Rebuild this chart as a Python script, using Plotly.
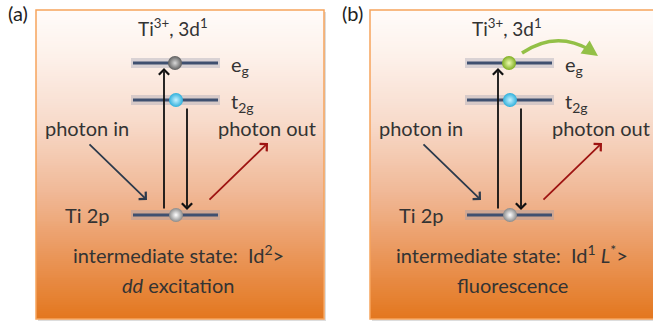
import plotly.graph_objects as go
import numpy as np

# ---- diagram content ----
panel_labels = ["(a)", "(b)"]
panel_offsets = [0, 334]          # horizontal shift of panel (b)
ion_label = "Ti<sup>3+</sup>, 3d<sup>1</sup>"
level_names = ["e<sub>g</sub>", "t<sub>2g</sub>", "Ti 2p"]
level_y = [63, 100, 215]
ball_colors_a = ["#5e5e5e", "#2fb0dc", "#8a8a8a"]
ball_hi_a = ["#d8d8d8", "#c8f2ff", "#ffffff"]
ball_colors_b = ["#7fae22", "#2fb0dc", "#8a8a8a"]
ball_hi_b = ["#eefcb0", "#c8f2ff", "#ffffff"]
state_text = ["intermediate state:  Id<sup>2</sup>>",
              "intermediate state:  Id<sup>1</sup> <i>L</i><sup>*</sup>>"]
process_text = ["<i>dd</i> excitation", "fluorescence"]

FONT = "Lato"
TXT = "#333333"
FS = 20

fig = go.Figure()

# gradient backgrounds
ny = 160
y_edges = np.linspace(10, 319, ny + 1)
yc = (y_edges[:-1] + y_edges[1:]) / 2
zcol = ((yc - 10) / 309).reshape(-1, 1)
cscale = [[0, "#fffcfa"], [0.15, "#fdf1ea"], [0.35, "#f8dccd"],
          [0.6, "#f0b794"], [0.8, "#ea9558"], [1, "#e3771e"]]
boxes = [(36, 324), (370, 660)]
for (x0, x1) in boxes:
    fig.add_shape(type="rect", x0=x0 + 2, x1=x1 + 2, y0=12, y1=321,
                  line=dict(width=0), fillcolor="rgba(120,120,120,0.25)", layer="below")
    fig.add_trace(go.Heatmap(x=[x0, x1], y=y_edges, z=zcol, colorscale=cscale,
                             showscale=False, hoverinfo="skip", zmin=0, zmax=1))
    fig.add_shape(type="rect", x0=x0, x1=x1, y0=10, y1=319,
                  line=dict(color="#f6a45c", width=1.5), layer="above")

for p, off in enumerate(panel_offsets):
    # panel label
    fig.add_annotation(x=18 + off, y=13, text=panel_labels[p], showarrow=False,
                       font=dict(family=FONT, size=20, color="#222"))
    fig.add_annotation(x=173 + off, y=27, text=ion_label, showarrow=False,
                       font=dict(family=FONT, size=19, color=TXT))
    # levels (glow + line) as traces
    for i, ly in enumerate(level_y):
        fig.add_trace(go.Scatter(x=[131 + off, 220 + off], y=[ly, ly], mode="lines",
                                 line=dict(color="rgba(150,155,175,0.35)", width=10),
                                 hoverinfo="skip", showlegend=False))
        fig.add_trace(go.Scatter(x=[133 + off, 218 + off], y=[ly, ly], mode="lines",
                                 line=dict(color="#3f5070", width=3),
                                 hoverinfo="skip", showlegend=False))
    fig.add_annotation(x=229 + off, y=65, text=level_names[0], showarrow=False, xanchor="left",
                       font=dict(family=FONT, size=FS, color=TXT))
    fig.add_annotation(x=229 + off, y=102, text=level_names[1], showarrow=False, xanchor="left",
                       font=dict(family=FONT, size=FS, color=TXT))
    fig.add_annotation(x=87 + off, y=215, text=level_names[2], showarrow=False,
                       font=dict(family=FONT, size=FS, color=TXT))
    fig.add_annotation(x=87 + off, y=128, text="photon in", showarrow=False,
                       font=dict(family=FONT, size=FS, color=TXT))
    fig.add_annotation(x=267 + off, y=128, text="photon out", showarrow=False,
                       font=dict(family=FONT, size=FS, color=TXT))
    fig.add_annotation(x=178 + off, y=254, text=state_text[p], showarrow=False,
                       font=dict(family=FONT, size=FS, color=TXT))
    fig.add_annotation(x=178 + off, y=285, text=process_text[p], showarrow=False,
                       font=dict(family=FONT, size=FS, color=TXT))
    # arrows
    arrows = [((164, 210), (164, 68), "#111111", 4),
              ((187, 107), (187, 210), "#111111", 4),
              ((88, 143), (147, 200), "#2c3a4c", 4),
              ((208, 201), (268, 143), "#9e1412", 4)]
    for (t, h, c, hd) in arrows:
        fig.add_annotation(x=h[0] + off, y=h[1], ax=t[0] + off, ay=t[1],
                           xref="x", yref="y", axref="x", ayref="y", text="",
                           showarrow=True, arrowhead=hd, arrowsize=1.1,
                           arrowwidth=1.8, arrowcolor=c)
    # electrons
    bc = ball_colors_a if p == 0 else ball_colors_b
    bh = ball_hi_a if p == 0 else ball_hi_b
    fig.add_trace(go.Scatter(x=[175 + off, 176 + off, 176 + off], y=level_y, mode="markers",
                             marker=dict(size=14, color=bc,
                                         gradient=dict(type="radial", color=bh),
                                         line=dict(width=0)),
                             hoverinfo="skip", showlegend=False))

# green curved arrow in panel (b)
fig.add_shape(type="path", path="M 522 53 Q 556 30 590 50",
              line=dict(color="#93c047", width=3.5), layer="above")
fig.add_annotation(x=598, y=56, ax=588, ay=49, xref="x", yref="y", axref="x", ayref="y",
                   text="", showarrow=True, arrowhead=2, arrowsize=0.9, arrowwidth=3.5,
                   arrowcolor="#93c047")

fig.update_xaxes(range=[0, 653], visible=False, showgrid=False, zeroline=False)
fig.update_yaxes(range=[322, 0], visible=False, showgrid=False, zeroline=False)
fig.update_layout(width=653, height=322, margin=dict(l=0, r=0, t=0, b=0),
                  plot_bgcolor="white", paper_bgcolor="white", showlegend=False)
fig.write_html("out.html")
